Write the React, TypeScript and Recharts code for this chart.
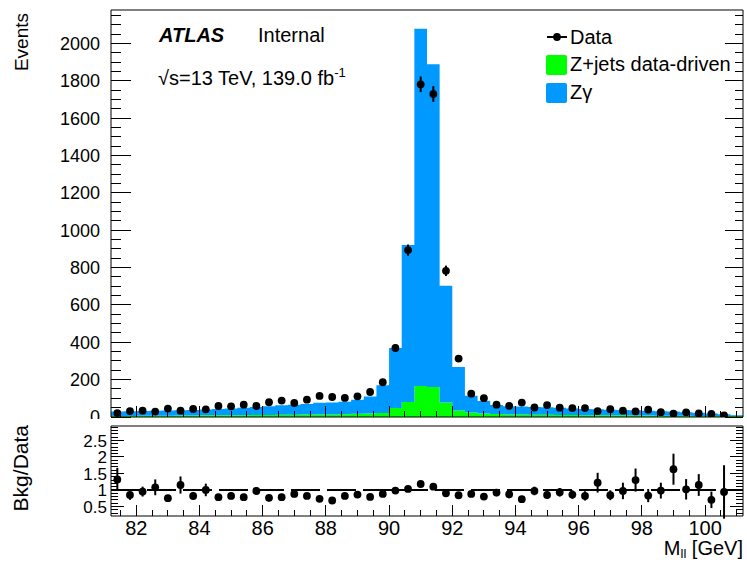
import React from 'react';
import { ComposedChart, Area, Scatter, XAxis, YAxis, ErrorBar, ReferenceLine } from 'recharts';

// bin centres, 0.4 GeV bins from 81.2 to 101.2
const BIN_CENTERS = [
  81.4, 81.8, 82.2, 82.6, 83.0, 83.4, 83.8, 84.2, 84.6, 85.0,
  85.4, 85.8, 86.2, 86.6, 87.0, 87.4, 87.8, 88.2, 88.6, 89.0,
  89.4, 89.8, 90.2, 90.6, 91.0, 91.4, 91.8, 92.2, 92.6, 93.0,
  93.4, 93.8, 94.2, 94.6, 95.0, 95.4, 95.8, 96.2, 96.6, 97.0,
  97.4, 97.8, 98.2, 98.6, 99.0, 99.4, 99.8, 100.2, 100.6, 101.0,
];
const BIN_HALF = 0.2;

const Z_JETS = [
  6, 6, 7, 7, 7, 8, 8, 9, 9, 10,
  10, 11, 11, 12, 12, 13, 14, 14, 15, 17,
  19, 22, 48, 80, 166, 161, 78, 35, 24, 19,
  16, 14, 13, 12, 12, 11, 11, 10, 10, 9,
  9, 8, 8, 7, 7, 7, 6, 6, 6, 5,
];
const Z_GAMMA = [
  24, 25, 25, 26, 28, 28, 30, 31, 34, 36,
  40, 43, 47, 51, 54, 57, 62, 64, 67, 75,
  91, 148, 322, 841, 1913, 1729, 625, 233, 90, 67,
  48, 44, 43, 41, 40, 38, 35, 33, 31, 30,
  28, 28, 26, 24, 22, 19, 17, 13, 9, 5,
];
const DATA = [
  21, 32, 34, 29, 45, 34, 43, 41, 59, 57,
  66, 59, 79, 88, 75, 93, 113, 107, 102, 111,
  134, 186, 370, 894, 1782, 1730, 783, 313, 125, 101,
  66, 60, 77, 51, 64, 50, 48, 48, 32, 42,
  34, 30, 39, 26, 18, 25, 19, 16, 9, null,
];
const DATA_ERR = [
  5, 6, 6, 5, 7, 6, 7, 6, 8, 8,
  8, 8, 9, 9, 9, 10, 11, 10, 10, 11,
  12, 14, 19, 30, 42, 42, 28, 18, 11, 10,
  8, 8, 9, 7, 8, 7, 7, 7, 6, 6,
  6, 5, 6, 5, 4, 5, 4, 4, 3, 0,
];
const RATIO = [
  1.32, 0.85, 0.95, 1.08, 0.75, 1.15, 0.82, 1.0, 0.78, 0.82,
  0.78, 0.97, 0.76, 0.78, 0.88, 0.82, 0.73, 0.68, 0.82, 0.86,
  0.79, 0.88, 0.98, 1.03, 1.18, 1.1, 0.9, 0.84, 0.88, 0.8,
  0.92, 0.87, 0.72, 0.97, 0.85, 0.93, 0.86, 0.82, 1.22, 0.84,
  0.97, 1.3, 0.83, 0.98, 1.63, 1.02, 1.15, 0.7, 0.94, null,
];
const RATIO_ERR = [
  0.35, 0.15, 0.15, 0.24, 0.1, 0.26, 0.12, 0.19, 0.1, 0.1,
  0.1, 0.12, 0.1, 0.1, 0.1, 0.09, 0.08, 0.08, 0.08, 0.08,
  0.07, 0.06, 0.05, 0.04, 0.03, 0.03, 0.04, 0.05, 0.08, 0.09,
  0.11, 0.12, 0.1, 0.13, 0.12, 0.13, 0.13, 0.14, 0.3, 0.15,
  0.25, 0.35, 0.2, 0.24, 0.47, 0.31, 0.33, 0.25, 0.81, 0,
];

const X_LABELS = [82, 84, 86, 88, 90, 92, 94, 96, 98, 100];
const MAIN_Y_LABELS = [0, 200, 400, 600, 800, 1000, 1200, 1400, 1600, 1800, 2000];
const RATIO_Y_LABELS = [0.5, 1, 1.5, 2, 2.5];

const X_DOMAIN: [number, number] = [81.2, 101.2];
const MAIN_Y_DOMAIN: [number, number] = [0, 2180];
const RATIO_Y_DOMAIN: [number, number] = [0.21, 2.94];

const steps = (from: number, to: number, step: number) => {
  const out: number[] = [];
  for (let v = from; v <= to + 1e-9; v += step) out.push(+v.toFixed(3));
  return out;
};
const X_TICKS = steps(81.5, 101, 0.5);
const MAIN_Y_TICKS = steps(0, 2150, 50);
const RATIO_Y_TICKS = steps(0.3, 2.9, 0.1);

const isOn = (list: number[], v: number) => list.some((l) => Math.abs(l - v) < 1e-6);

const FONT = '"Liberation Sans", Arial, Helvetica, sans-serif';
const BLUE = '#0099ff';
const GREEN = '#00ff00';

const W = 747;
const PLOT_L = 111;
const PLOT_R = 743;
const MAIN_H = 420;
const MAIN_TOP = 10;
const MAIN_BOTTOM = 417;
const RATIO_OFFSET = 419;
const RATIO_H = 144;
const RATIO_TOP = 7;
const RATIO_BOTTOM = 97;
const AX = 1; // thickness reserved by each axis

// step histogram table built at bin edges
const stackRows = BIN_CENTERS.map((c, i) => ({ x: c - BIN_HALF, zjets: Z_JETS[i], zgamma: Z_GAMMA[i] }));
stackRows.push({
  x: BIN_CENTERS[BIN_CENTERS.length - 1] + BIN_HALF,
  zjets: Z_JETS[Z_JETS.length - 1],
  zgamma: Z_GAMMA[Z_GAMMA.length - 1],
});
const dataPoints = BIN_CENTERS.map((c, i) => ({ x: c, y: DATA[i], err: DATA_ERR[i] })).filter((d) => d.y != null);
const ratioPoints = BIN_CENTERS.map((c, i) => ({ x: c, y: RATIO[i], err: RATIO_ERR[i] })).filter((d) => d.y != null);

const line = (x1: number, y1: number, x2: number, y2: number) => (
  <line x1={x1} y1={y1} x2={x2} y2={y2} stroke="#000" strokeWidth={1} shapeRendering="crispEdges" />
);

const mainLeftTick = (p: any) => {
  const v = p.payload.value;
  const major = isOn(MAIN_Y_LABELS, v);
  return (
    <g>
      {line(PLOT_L, p.y, PLOT_L + (major ? 20 : 10), p.y)}
      {major && (
        <text x={100} y={p.y} dy="0.36em" textAnchor="end" fontSize={18} fill="#000">{v}</text>
      )}
    </g>
  );
};
const mainRightTick = (p: any) => {
  const major = isOn(MAIN_Y_LABELS, p.payload.value);
  return <g>{line(PLOT_R - (major ? 18 : 8), p.y, PLOT_R, p.y)}</g>;
};
const topTick = (top: number) => (p: any) => {
  const major = isOn(X_LABELS, p.payload.value);
  return <g>{line(p.x, top, p.x, top + (major ? 10 : 5))}</g>;
};
const bottomTick = (bottom: number, withLabel: boolean) => (p: any) => {
  const v = p.payload.value;
  const major = isOn(X_LABELS, v);
  return (
    <g>
      {line(p.x, bottom - (major ? 11 : 6), p.x, bottom)}
      {major && withLabel && (
        <text x={p.x} y={116} textAnchor="middle" fontSize={20} fill="#000">{v}</text>
      )}
    </g>
  );
};
const ratioLeftTick = (p: any) => {
  const v = p.payload.value;
  const major = isOn(RATIO_Y_LABELS, v);
  return (
    <g>
      {line(PLOT_L, p.y, PLOT_L + (major ? 13 : 7), p.y)}
      {major && (
        <text x={107} y={p.y} dy="0.36em" textAnchor="end" fontSize={17} fill="#000">{v}</text>
      )}
    </g>
  );
};
const ratioRightTick = (p: any) => {
  const major = isOn(RATIO_Y_LABELS, p.payload.value);
  return <g>{line(PLOT_R - (major ? 13 : 7), p.y, PLOT_R, p.y)}</g>;
};

const Dot = (p: any) => <circle cx={p.cx} cy={p.cy} r={3.9} fill="#000" />;

const axisLine = { stroke: '#000', strokeWidth: 1 };

export default function App() {
  return (
    <div style={{ position: 'absolute', left: 0, top: 0, width: W, height: 563, background: '#fff', fontFamily: FONT }}>
      <div style={{ position: 'absolute', left: 0, top: 0 }}>
        <ComposedChart
          width={W}
          height={MAIN_H}
          data={stackRows}
          margin={{
            top: MAIN_TOP - AX,
            right: W - PLOT_R - AX,
            bottom: MAIN_H - MAIN_BOTTOM - AX,
            left: PLOT_L - AX,
          }}
        >
          <XAxis
            dataKey="x"
            type="number"
            domain={X_DOMAIN}
            allowDataOverflow
            ticks={X_TICKS}
            interval={0}
            height={AX}
            tickLine={false}
            axisLine={axisLine}
            tick={bottomTick(MAIN_BOTTOM, false)}
          />
          <XAxis
            xAxisId="top"
            orientation="top"
            type="number"
            domain={X_DOMAIN}
            allowDataOverflow
            ticks={X_TICKS}
            interval={0}
            height={AX}
            tickLine={false}
            axisLine={axisLine}
            tick={topTick(MAIN_TOP)}
          />
          <YAxis
            type="number"
            domain={MAIN_Y_DOMAIN}
            allowDataOverflow
            ticks={MAIN_Y_TICKS}
            interval={0}
            width={AX}
            tickLine={false}
            axisLine={axisLine}
            tick={mainLeftTick}
          />
          <YAxis
            yAxisId="right"
            orientation="right"
            type="number"
            domain={MAIN_Y_DOMAIN}
            allowDataOverflow
            ticks={MAIN_Y_TICKS}
            interval={0}
            width={AX}
            tickLine={false}
            axisLine={axisLine}
            tick={mainRightTick}
          />
          <Area
            type="stepAfter"
            dataKey="zjets"
            stackId="bkg"
            fill={GREEN}
            fillOpacity={1}
            stroke="none"
            isAnimationActive={false}
          />
          <Area
            type="stepAfter"
            dataKey="zgamma"
            stackId="bkg"
            fill={BLUE}
            fillOpacity={1}
            stroke="none"
            isAnimationActive={false}
          />
          <Scatter data={dataPoints} dataKey="y" shape={Dot} isAnimationActive={false}>
            <ErrorBar dataKey="err" direction="y" width={0} stroke="#000" strokeWidth={2} />
          </Scatter>
        </ComposedChart>
      </div>

      <div style={{ position: 'absolute', left: 0, top: RATIO_OFFSET, background: '#fff' }}>
        <ComposedChart
          width={W}
          height={RATIO_H}
          margin={{
            top: RATIO_TOP - AX,
            right: W - PLOT_R - AX,
            bottom: RATIO_H - RATIO_BOTTOM - AX,
            left: PLOT_L - AX,
          }}
        >
          <XAxis
            dataKey="x"
            type="number"
            domain={X_DOMAIN}
            allowDataOverflow
            ticks={X_TICKS}
            interval={0}
            height={AX}
            tickLine={false}
            axisLine={axisLine}
            tick={bottomTick(RATIO_BOTTOM, true)}
          />
          <XAxis
            xAxisId="top"
            orientation="top"
            type="number"
            domain={X_DOMAIN}
            allowDataOverflow
            ticks={X_TICKS}
            interval={0}
            height={AX}
            tickLine={false}
            axisLine={axisLine}
            tick={topTick(RATIO_TOP)}
          />
          <YAxis
            type="number"
            domain={RATIO_Y_DOMAIN}
            allowDataOverflow
            ticks={RATIO_Y_TICKS}
            interval={0}
            width={AX}
            tickLine={false}
            axisLine={axisLine}
            tick={ratioLeftTick}
          />
          <YAxis
            yAxisId="right"
            orientation="right"
            type="number"
            domain={RATIO_Y_DOMAIN}
            allowDataOverflow
            ticks={RATIO_Y_TICKS}
            interval={0}
            width={AX}
            tickLine={false}
            axisLine={axisLine}
            tick={ratioRightTick}
          />
          <ReferenceLine y={1} stroke="#000" strokeWidth={2} strokeDasharray="29 7" />
          <Scatter data={ratioPoints} dataKey="y" shape={Dot} isAnimationActive={false}>
            <ErrorBar dataKey="err" direction="y" width={0} stroke="#000" strokeWidth={2} />
          </Scatter>
        </ComposedChart>
      </div>

      <svg
        width={W}
        height={563}
        style={{ position: 'absolute', left: 0, top: 0, pointerEvents: 'none', fontFamily: FONT }}
      >
        <text x={159} y={42} fontSize={20} fontWeight="bold" fontStyle="italic" fill="#000">ATLAS</text>
        <text x={258} y={42} fontSize={20} fill="#000">Internal</text>
        <text x={158} y={85} fontSize={20} fill="#000">
          √s=13 TeV, 139.0 fb<tspan dy={-8} fontSize={13}>-1</tspan>
        </text>

        <line x1={547} y1={37} x2={567} y2={37} stroke="#000" strokeWidth={2} />
        <circle cx={557} cy={37} r={3.9} fill="#000" />
        <text x={570} y={44} fontSize={20} fill="#000">Data</text>
        <rect x={546} y={55} width={21} height={20} rx={2} fill={GREEN} />
        <text x={570} y={71} fontSize={20} fill="#000">Z+jets data-driven</text>
        <rect x={546} y={83} width={21} height={20} rx={2} fill={BLUE} />
        <text x={570} y={99} fontSize={20} fill="#000">Zγ</text>

        <text transform="translate(27.5,13) rotate(-90)" textAnchor="end" fontSize={19} fill="#000">Events</text>
        <text transform="translate(28,425) rotate(-90)" textAnchor="end" fontSize={21} fill="#000">Bkg/Data</text>
        <text x={743} y={555} textAnchor="end" fontSize={20} fill="#000">
          M<tspan dy={3} fontSize={13}>ll</tspan>
          <tspan dy={-3}> [GeV]</tspan>
        </text>
      </svg>
    </div>
  );
}
